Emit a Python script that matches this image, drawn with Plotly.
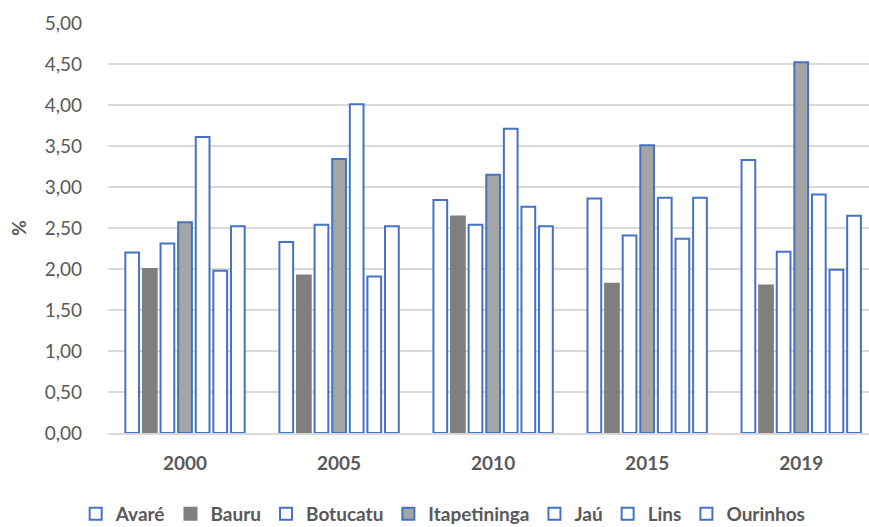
import plotly.graph_objects as go

years = ["2000", "2005", "2010", "2015", "2019"]
series_names = ["Avaré", "Bauru", "Botucatu", "Itapetininga", "Jaú", "Lins", "Ourinhos"]
avare = [2.20, 2.33, 2.84, 2.86, 3.33]
bauru = [2.00, 1.92, 2.64, 1.82, 1.80]
botucatu = [2.31, 2.54, 2.54, 2.41, 2.21]
itapetininga = [2.57, 3.34, 3.15, 3.51, 4.52]
jau = [3.61, 4.01, 3.71, 2.87, 2.91]
lins = [1.98, 1.91, 2.76, 2.37, 1.99]
ourinhos = [2.52, 2.52, 2.52, 2.87, 2.65]
y_ticks = [0, 0.5, 1, 1.5, 2, 2.5, 3, 3.5, 4, 4.5, 5]

values = [avare, bauru, botucatu, itapetininga, jau, lins, ourinhos]
BLUE = "#4472c4"
styles = {
    "Avaré": ("white", BLUE),
    "Bauru": ("#7f7f7f", "#7f7f7f"),
    "Botucatu": ("white", BLUE),
    "Itapetininga": ("#a5a5a5", BLUE),
    "Jaú": ("white", BLUE),
    "Lins": ("white", BLUE),
    "Ourinhos": ("white", BLUE),
}

fig = go.Figure()
for name, vals in zip(series_names, values):
    fill, line = styles[name]
    fig.add_trace(go.Bar(
        x=years, y=vals, name=name,
        marker=dict(color=fill, line=dict(color=line, width=2)),
    ))

font_family = "Lato, 'Open Sans', sans-serif"
fig.update_layout(
    width=869, height=527,
    margin=dict(l=108, r=0, t=23, b=94, autoexpand=False),
    paper_bgcolor="white", plot_bgcolor="white",
    barmode="group", bargap=0.2, bargroupgap=0.22,
    font=dict(family=font_family, color="#595959", size=19),
    showlegend=True,
    legend=dict(
        orientation="h", xref="container", yref="container",
        x=0.51, xanchor="center", y=(527 - 514) / 527, yanchor="middle",
        font=dict(size=19, color="#595959", family=font_family, weight="bold"),
        itemwidth=30, traceorder="normal", tracegroupgap=0,
    ),
    xaxis=dict(
        range=[-0.5, 4.44],
        showline=True, linecolor="#d9d9d9", linewidth=1.5,
        tickfont=dict(size=19, color="#595959", weight="bold"),
        ticks="", ticklabelstandoff=12,
    ),
    yaxis=dict(
        range=[0, 5], tickvals=y_ticks,
        ticktext=[f"{v:.2f}".replace(".", ",") for v in y_ticks],
        gridcolor="#d9d9d9", gridwidth=1.5, zeroline=False,
        tickfont=dict(size=19, color="#595959"),
        ticks="", ticklabelstandoff=25,
        title=dict(text="%", font=dict(size=19, color="#595959", weight="bold"), standoff=12),
    ),
)

fig.write_html("out.html")
